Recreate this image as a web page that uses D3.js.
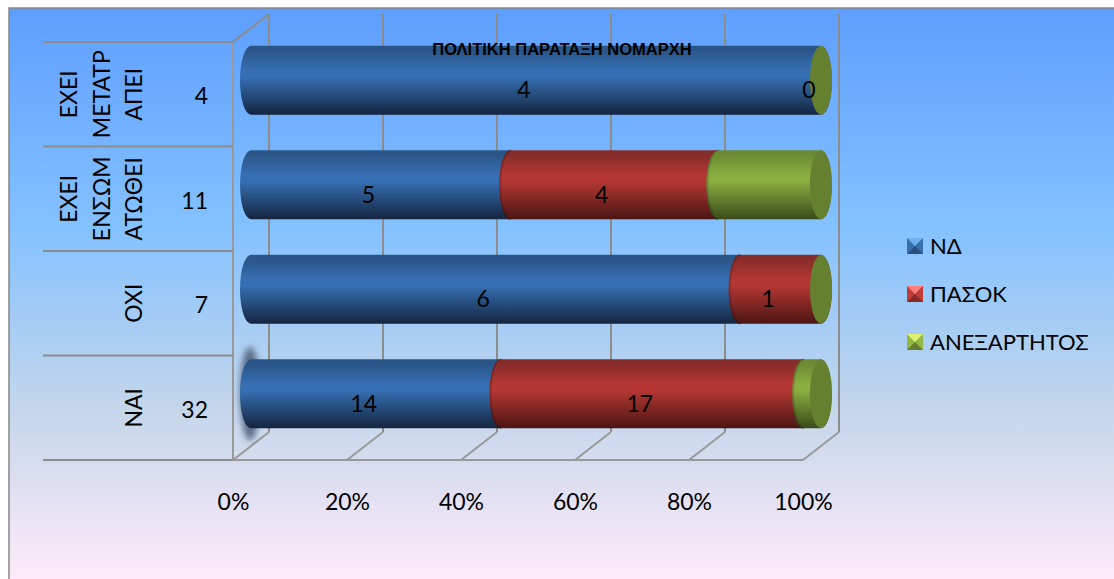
<!DOCTYPE html>
<html>
<head>
<meta charset="utf-8">
<script src="https://cdnjs.cloudflare.com/ajax/libs/d3/7.8.5/d3.min.js"></script>
<style>
  html, body { margin: 0; padding: 0; background: #fff; overflow: hidden; }
  text { font-family: Lato, "Open Sans", "Noto Sans", sans-serif; fill: #000; }
</style>
</head>
<body>
<div id="chart"></div>
<script>
const categories = ['ΕΧΕΙ ΜΕΤΑΤΡ ΑΠΕΙ', 'ΕΧΕΙ ΕΝΣΩΜ ΑΤΩΘΕΙ', 'ΟΧΙ', 'ΝΑΙ'];
const totals = [4, 11, 7, 32];
const seriesNames = ['ΝΔ', 'ΠΑΣΟΚ', 'ΑΝΕΞΑΡΤΗΤΟΣ'];
const nd = [4, 5, 6, 14];
const pasok = [0, 4, 1, 17];
const anex = [0, 2, 0, 1];
// which labels the picture actually shows, per series (null = no label)
const ndLabels = ['4', '5', '6', '14'];
const pasokLabels = [null, '4', '1', '17'];
const anexLabels = ['0', null, null, null];
const xTicks = [0, 0.2, 0.4, 0.6, 0.8, 1];
const chartTitle = 'ΠΟΛΙΤΙΚΗ ΠΑΡΑΤΑΞΗ ΝΟΜΑΡΧΗ';

const colors = [
  { top: '#2a5587', mid: '#366fb3', bot: '#14253f', light: '#6fb0f0', base: '#3a6fae', dark: '#2a5080' },
  { top: '#862c2a', mid: '#b43733', bot: '#4a1513', light: '#ff7f7c', base: '#bd3c38', dark: '#872a28' },
  { top: '#6c8a33', mid: '#8aae40', bot: '#3a4a1a', light: '#e0f070', base: '#93b845', dark: '#64802f' }
];
const capColor = '#65802f';

const width = 1114, height = 579;
const depthX = 36, depthY = 28; // 3d shift of back wall
const plotLeft = 233, plotRight = 803, plotTop = 42, plotBottom = 460;
const fontSize = 23;

const svg = d3.select('#chart').append('svg')
  .attr('width', width).attr('height', height)
  .style('display', 'block');

const defs = svg.append('defs');
const bg = defs.append('linearGradient').attr('id', 'bg')
  .attr('x1', 0).attr('y1', 0).attr('x2', 0).attr('y2', 1);
[['0%', '#5e9eff'], ['39%', '#85c2ff'], ['70%', '#c4d6eb'], ['100%', '#ffebfa']].forEach(s => {
  bg.append('stop').attr('offset', s[0]).attr('stop-color', s[1]);
});
colors.forEach((c, i) => {
  const g = defs.append('linearGradient').attr('id', 'cyl' + i)
    .attr('x1', 0).attr('y1', 0).attr('x2', 0).attr('y2', 1);
  [['0%', c.top], ['6%', c.top], ['36%', c.mid], ['45%', c.mid], ['100%', c.bot]].forEach(s => {
    g.append('stop').attr('offset', s[0]).attr('stop-color', s[1]);
  });
});
defs.append('filter').attr('id', 'blur')
  .attr('x', '-100%').attr('y', '-30%').attr('width', '300%').attr('height', '160%')
  .append('feGaussianBlur').attr('stdDeviation', 3);

// background panel, bottom and right edges run off the page
svg.append('rect')
  .attr('x', 9).attr('y', 8).attr('width', width + 10).attr('height', height - 6)
  .attr('fill', 'url(#bg)').attr('stroke', '#868686').attr('stroke-width', 1.5);

const x = d3.scaleLinear().domain([0, 1]).range([plotLeft, plotRight]);
const y = d3.scaleBand().domain(categories).range([plotTop, plotBottom]);

const rows = categories.map((c, i) => ({ cat: c, total: totals[i], s0: nd[i], s1: pasok[i], s2: anex[i] }));
const stacked = d3.stack().keys(['s0', 's1', 's2']).offset(d3.stackOffsetExpand)(rows);

// walls and floor
const gridColor = '#8c8c8c';
const walls = svg.append('g').attr('fill', 'none').attr('stroke', gridColor).attr('stroke-width', 2);
xTicks.forEach(t => {
  walls.append('line').attr('x1', x(t) + depthX).attr('x2', x(t) + depthX)
    .attr('y1', plotTop - depthY).attr('y2', plotBottom - depthY);
  walls.append('line').attr('x1', x(t)).attr('x2', x(t) + depthX)
    .attr('y1', plotBottom).attr('y2', plotBottom - depthY).attr('stroke', '#999');
});
walls.append('line').attr('x1', plotLeft).attr('x2', plotLeft).attr('y1', plotTop).attr('y2', plotBottom).attr('stroke', '#999');
walls.append('line').attr('x1', plotLeft).attr('x2', plotLeft + depthX).attr('y1', plotTop).attr('y2', plotTop - depthY);
walls.append('line').attr('x1', plotLeft).attr('x2', plotRight).attr('y1', plotBottom).attr('y2', plotBottom).attr('stroke', '#999');

// category table lines on the left
const tableLeft = 43;
categories.concat([null]).forEach(c => {
  const yy = c === null ? plotBottom : y(c);
  walls.append('line').attr('x1', tableLeft).attr('x2', plotLeft).attr('y1', yy).attr('y2', yy);
});

// bars
const barH = 69, rx = 11;
const barX = v => x(v) + depthX / 2;
const barTop = c => y(c) + y.bandwidth() / 2 - depthY / 2 - barH / 2;

// the glow on the first point of the first series
svg.append('ellipse')
  .attr('cx', barX(0) - 1).attr('cy', barTop('ΝΑΙ') + barH / 2)
  .attr('rx', 10).attr('ry', 47)
  .attr('fill', '#5a6d88').attr('filter', 'url(#blur)');

const segPath = (x0, x1, t) => {
  const b = t + barH, ry = barH / 2;
  return `M${x0},${t}A${rx},${ry} 0 0 0 ${x0},${b}L${x1},${b}A${rx},${ry} 0 0 0 ${x1},${t}Z`;
};
const edgePath = (x0, t) => `M${x0},${t}A${rx},${barH / 2} 0 0 0 ${x0},${t + barH}`;

stacked.forEach((layer, si) => {
  const g = svg.append('g');
  g.selectAll('path.seg').data(layer.filter(d => d[1] > d[0])).join('path')
    .attr('class', 'seg')
    .attr('d', d => segPath(barX(d[0]), barX(d[1]), barTop(d.data.cat)))
    .attr('fill', `url(#cyl${si})`);
  // soft dark rim where a segment sits on the previous one
  g.selectAll('path.edge').data(layer.filter(d => d[1] > d[0] && d[0] > 0)).join('path')
    .attr('class', 'edge')
    .attr('d', d => edgePath(barX(d[0]) + 1, barTop(d.data.cat)))
    .attr('fill', 'none').attr('stroke', '#000').attr('stroke-opacity', 0.18).attr('stroke-width', 2);
});
// end caps
svg.append('g').selectAll('ellipse').data(categories).join('ellipse')
  .attr('cx', barX(1)).attr('cy', c => barTop(c) + barH / 2)
  .attr('rx', rx).attr('ry', barH / 2)
  .attr('fill', capColor);

// data labels
const labelSets = [ndLabels, pasokLabels, anexLabels];
stacked.forEach((layer, si) => {
  svg.append('g').selectAll('text')
    .data(layer.filter((d, i) => labelSets[si][i] !== null)).join('text')
    .attr('x', d => barX((d[0] + d[1]) / 2) - 12)
    .attr('y', d => barTop(d.data.cat) + barH / 2 + 18)
    .attr('text-anchor', 'middle').attr('font-size', fontSize)
    .text(d => labelSets[si][categories.indexOf(d.data.cat)]);
});

// totals column
svg.append('g').selectAll('text').data(rows).join('text')
  .attr('x', 208).attr('y', d => y(d.cat) + y.bandwidth() / 2 + 10)
  .attr('text-anchor', 'end').attr('font-size', fontSize)
  .text(d => d.total);

// rotated category labels, wrapped like the original
const catLines = c => c.split(' ');
const catCols = [77, 109.5, 142];
svg.append('g').selectAll('g').data(categories).join('g')
  .attr('transform', c => {
    const n = catLines(c).length;
    return `translate(${catCols[3 - n]},${y(c) + y.bandwidth() / 2}) rotate(-90)`;
  })
  .selectAll('text').data(c => catLines(c)).join('text')
  .attr('x', 0).attr('y', (d, i) => i * 32.5)
  .attr('text-anchor', 'middle').attr('font-size', 23)
  .text(d => d);

// x axis labels
const axis = d3.axisBottom(x).tickValues(xTicks).tickFormat(d3.format('.0%')).tickSize(0);
const axisG = svg.append('g').attr('transform', `translate(0,${plotBottom})`).call(axis);
axisG.select('.domain').remove();
axisG.attr('font-family', null).attr('font-size', fontSize);
axisG.selectAll('text').attr('y', 50).attr('dy', 0);

// title
svg.append('text').attr('x', 562).attr('y', 55)
  .attr('text-anchor', 'middle').attr('font-size', 16.5).attr('font-weight', 'bold')
  .style('font-family', '"Liberation Sans", sans-serif')
  .text(chartTitle);

// legend
const legend = svg.append('g').selectAll('g').data(seriesNames).join('g')
  .attr('transform', (d, i) => `translate(907,${238 + i * 48})`);
const sw = 16;
legend.each(function (d, i) {
  const g = d3.select(this), c = colors[i];
  g.append('rect').attr('width', sw).attr('height', sw).attr('fill', c.base);
  g.append('path').attr('d', `M0,0L${sw},0L${sw / 2},${sw / 2}Z`).attr('fill', c.light);
  g.append('path').attr('d', `M0,${sw}L${sw},${sw}L${sw / 2},${sw / 2}Z`).attr('fill', c.dark);
  g.append('text').attr('x', 23).attr('y', 15.5).attr('font-size', 22).text(d);
});
</script>
</body>
</html>
